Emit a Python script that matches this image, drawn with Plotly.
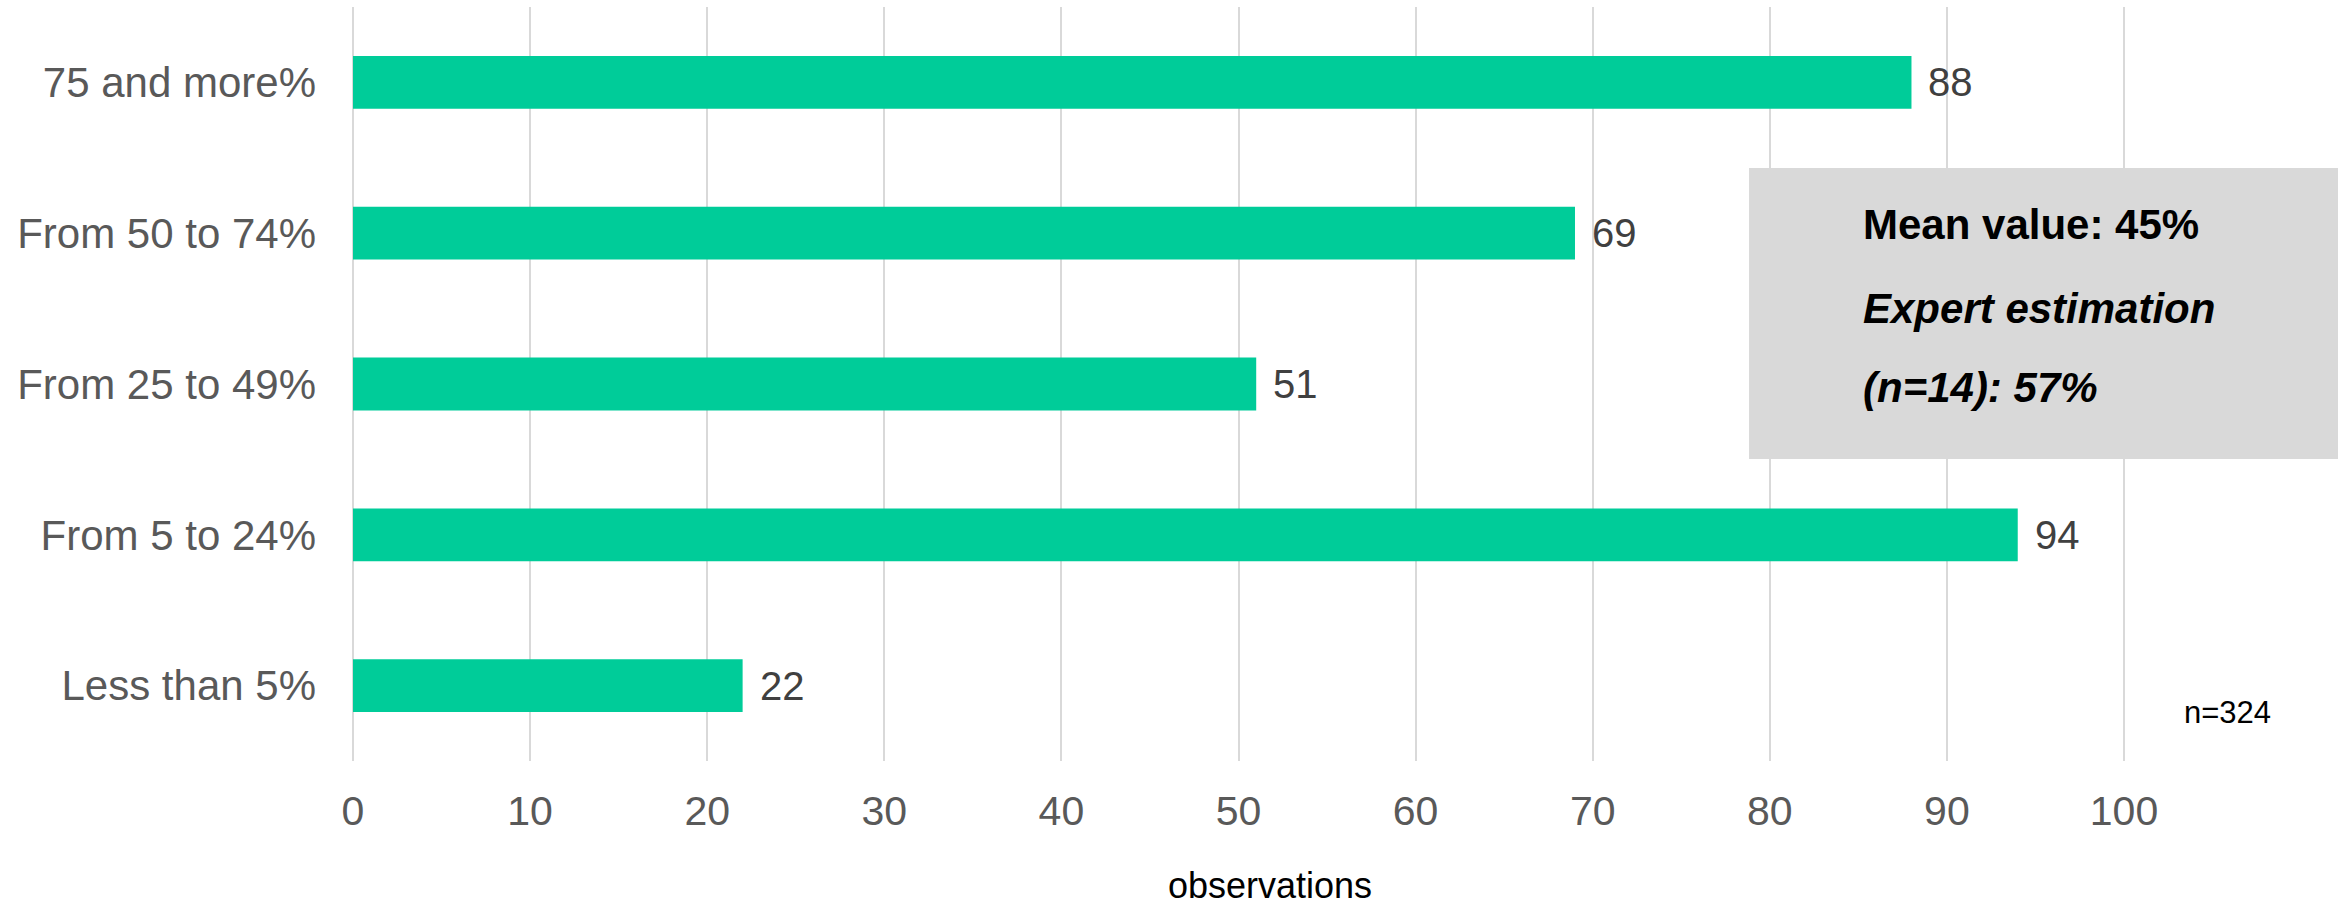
import plotly.graph_objects as go

# Share of respondents by category
categories = ["75 and more%", "From 50 to 74%", "From 25 to 49%", "From 5 to 24%", "Less than 5%"]
observations = [88, 69, 51, 94, 22]
x_ticks = [0, 10, 20, 30, 40, 50, 60, 70, 80, 90, 100]

box_lines = ["<b>Mean value: 45%</b>", "<b><i>Expert estimation</i></b>", "<b><i>(n=14): 57%</i></b>"]
sample_note = "n=324"
x_title = "observations"

FONT = "Liberation Sans, Arial, sans-serif"
BAR = "#00CC99"
GRID = "#D9D9D9"

W, H = 2338, 909
L, R, T, B = 353, 0, 7, 148
px_per_unit = 17.71
x_max = (W - L - R) / px_per_unit

fig = go.Figure()
fig.add_trace(go.Bar(
    x=observations,
    y=categories,
    orientation="h",
    width=0.35,
    marker=dict(color=BAR, line=dict(width=0)),
    hoverinfo="x+y",
))

# value labels just past each bar end
for cat, val in zip(categories, observations):
    fig.add_annotation(
        x=val, y=cat, xref="x", yref="y",
        text=str(val), showarrow=False,
        xanchor="left", yanchor="middle", xshift=15,
        font=dict(family=FONT, size=40, color="#404040"),
    )

# grey info box
fig.add_shape(
    type="rect", xref="paper", yref="paper",
    x0=0.7033, x1=1.0, y0=0.4005, y1=0.7865,
    fillcolor="#D9D9D9", line=dict(width=0), layer="above",
)
for text, yy in zip(box_lines, [0.712, 0.600, 0.496]):
    fig.add_annotation(
        x=0.7597, y=yy, xref="paper", yref="paper",
        text=text, showarrow=False, xanchor="left", yanchor="middle",
        font=dict(family=FONT, size=42, color="#000000"),
    )

fig.add_annotation(
    x=0.9214, y=0.064, xref="paper", yref="paper",
    text=sample_note, showarrow=False, xanchor="left", yanchor="middle",
    font=dict(family=FONT, size=31, color="#000000"),
)

# axis title, kept inside the page's bottom edge
fig.add_annotation(
    x=0.462, y=-0.195, xref="paper", yref="paper",
    text=x_title, showarrow=False, xanchor="center", yanchor="bottom",
    font=dict(family=FONT, size=36, color="#000000"),
)

fig.update_layout(
    width=W, height=H,
    margin=dict(l=L, r=R, t=T, b=B, pad=0),
    plot_bgcolor="white", paper_bgcolor="white",
    showlegend=False,
    bargap=0.65,
    xaxis=dict(
        range=[0, x_max],
        tickmode="array", tickvals=x_ticks,
        showgrid=True, gridcolor=GRID, gridwidth=2,
        zeroline=True, zerolinecolor=GRID, zerolinewidth=2,
        showline=False, ticks="",
        ticklabelstandoff=22,
        tickfont=dict(family=FONT, size=41, color="#595959"),
    ),
    yaxis=dict(
        categoryorder="array", categoryarray=categories[::-1],
        range=[-0.5, 4.5],
        showgrid=False, zeroline=False, showline=False, ticks="",
        ticklabelstandoff=36,
        tickfont=dict(family=FONT, size=42, color="#595959"),
    ),
)

fig.write_html("out.html")
